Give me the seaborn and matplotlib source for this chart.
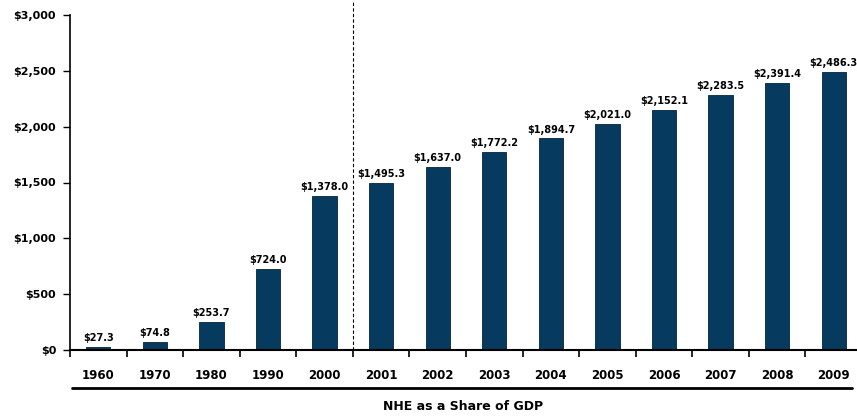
import matplotlib
matplotlib.use("Agg")
import matplotlib.pyplot as plt
import seaborn as sns
import pandas as pd
from matplotlib.lines import Line2D

years = ["1960", "1970", "1980", "1990", "2000", "2001", "2002", "2003",
         "2004", "2005", "2006", "2007", "2008", "2009"]
spending = [27.3, 74.8, 253.7, 724.0, 1378.0, 1495.3, 1637.0, 1772.2,
            1894.7, 2021.0, 2152.1, 2283.5, 2391.4, 2486.3]
y_ticks = [0, 500, 1000, 1500, 2000, 2500, 3000]
y_tick_labels = ["$0", "$500", "$1,000", "$1,500", "$2,000", "$2,500", "$3,000"]
x_title = "NHE as a Share of GDP"

df = pd.DataFrame({"year": years, "value": spending})

sns.set_style("white")
plt.rcParams['font.family'] = ['DejaVu Sans']

fig = plt.figure(figsize=(8.57, 4.17), dpi=100)
ax = fig.add_axes([70/857, 1-350/417, 792/857, 335/417])

sns.barplot(data=df, x="year", y="value", order=years, color="#063A5E",
            width=0.43, saturation=1, ax=ax, edgecolor="#02243b", linewidth=0.6)

for i, v in enumerate(spending):
    ax.text(i, v + 35, f"${v:,.1f}", ha="center", va="bottom",
            fontsize=7, fontweight="bold", color="black")

ax.set_xlim(-0.5, 13.5)
ax.set_ylim(0, 3000)
ax.set_yticks(y_ticks)
ax.set_yticklabels(y_tick_labels, fontsize=8, fontweight="bold")
ax.set_xticks(range(len(years)))
ax.set_xticklabels(years, fontsize=8.5, fontweight="bold")
ax.set_xticks([i - 0.5 for i in range(len(years))], minor=True)
ax.tick_params(axis="x", which="major", length=0, pad=14, labelcolor="black")
ax.tick_params(axis="x", which="minor", length=5, width=1.2, direction="out", color="black", bottom=True)
ax.tick_params(axis="y", which="major", length=5, width=1.0, direction="out", color="black",
               left=True, pad=5, labelcolor="black")
ax.set_xlabel("")
ax.set_ylabel("")

for s in ["top", "right"]:
    ax.spines[s].set_visible(False)
ax.spines["left"].set_color("black")
ax.spines["left"].set_linewidth(1.2)
ax.spines["bottom"].set_color("black")
ax.spines["bottom"].set_linewidth(1.5)

ax.axvline(4.5, ymin=0, ymax=1.04, color="black", linestyle=(0, (3, 2)),
           linewidth=0.8, clip_on=False)

fig.add_artist(Line2D([72/857, 852/857], [1-388/417, 1-388/417],
                      color="black", linewidth=2, transform=fig.transFigure))
fig.text(463/857, 1-406/417, x_title, ha="center", va="center",
         fontsize=9, fontweight="bold", color="black")

fig.savefig("out.png", dpi=100)
